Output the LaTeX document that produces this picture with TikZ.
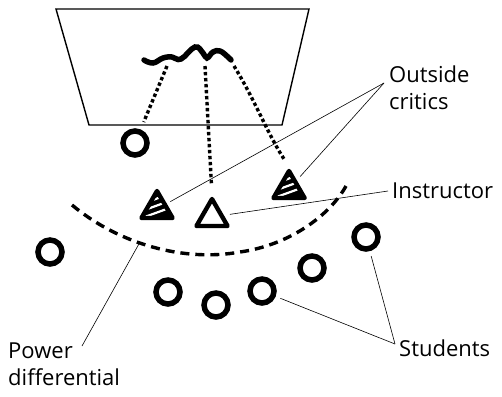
\documentclass[tikz,border=0pt]{standalone}
\usepackage{fontspec}
\setmainfont{Open Sans}
\usetikzlibrary{shapes.geometric,calc}
\begin{document}
\begin{tikzpicture}[x=1pt,y=-1pt,
  person/.style={circle,draw,line width=5.5pt,minimum size=24pt,inner sep=0pt},
  tri/.style={regular polygon,regular polygon sides=3,draw,line width=4.4pt,
    line join=round,minimum size=36pt,inner sep=0pt},
  critic/.style={tri,fill=black,path picture={
      \foreach \d in {-6,1,8}
        \draw[white,line width=2.2pt]
          ($(path picture bounding box.center)+(-22,\d+8)$) -- ++(44,-16);}},
  gaze/.style={line width=3.4pt,dash pattern=on 3.4pt off 2.6pt},
  leader/.style={line width=0.6pt},
  label/.style={font=\fontsize{22}{27}\selectfont,align=left,inner sep=0pt}
]
\useasboundingbox (0,0) rectangle (502,396);

% screen
\draw[line width=1.4pt] (56,9) -- (309,9) -- (282,125) -- (89,125) -- cycle;

% scribble on the screen
\draw[line width=5.5pt,line cap=round] plot[smooth,tension=0.7] coordinates
  {(144,60) (153,63) (163,58) (172,57) (181,59) (195,47) (203,53) (207,58)
   (213,52) (220,51) (228,57) (231,60)};

% people
\node[person] (t0) at (135,143) {};
\node[person] (s1) at (50,252) {};
\node[person] (s2) at (168,292) {};
\node[person] (s3) at (216,305) {};
\node[person] (s4) at (262,291) {};
\node[person] (s5) at (312,268) {};
\node[person] (s6) at (366,237) {};

\node[tri] (ins) at (212,217) {};
\node[critic] (cl) at (157,209) {};
\node[critic] (cr) at (289,189) {};

% lines of sight to the screen
\coordinate (g1) at (167,66);
\coordinate (g2) at (205,66);
\coordinate (g3) at (234,66);
\draw[gaze,shorten >=8pt] (g1) -- (t0);
\draw[gaze,shorten >=10pt] (g2) -- (ins.north);
\draw[gaze,shorten >=7pt] (g3) .. controls (255,100) and (268,135) .. (cr.north);

% power differential
\draw[line width=3.4pt,dash pattern=on 9pt off 6pt]
  (72,205) .. controls (120,245) and (185,262) .. (240,252)
  coordinate[pos=0.42] (pd)
  .. controls (290,245) and (330,215) .. (346,186);

% labels (base = baseline of the last line)
\node[label,anchor=base west] (oc) at (389,109) {Outside\\critics};
\node[label,anchor=base west] (in) at (392,198) {Instructor};
\node[label,anchor=base west] (pw) at (8,385) {Power\\differential};
\node[label,anchor=base west] (st) at (399,356) {Students};

% leaders
\coordinate (ocp) at (384,83);
\draw[leader,shorten >=4pt] (ocp) -- (cl);
\draw[leader,shorten >=5pt] (ocp) -- (cr);
\coordinate (inp) at (388,191);
\draw[leader,shorten >=6pt] (inp) -- (ins);
\coordinate (pwp) at (82,346);
\draw[leader] (pwp) -- (pd);
\coordinate (stp) at (395,344);
\draw[leader,shorten >=5pt] (stp) -- (s4);
\draw[leader,shorten >=5pt] (stp) -- (s6);
\end{tikzpicture}
\end{document}
